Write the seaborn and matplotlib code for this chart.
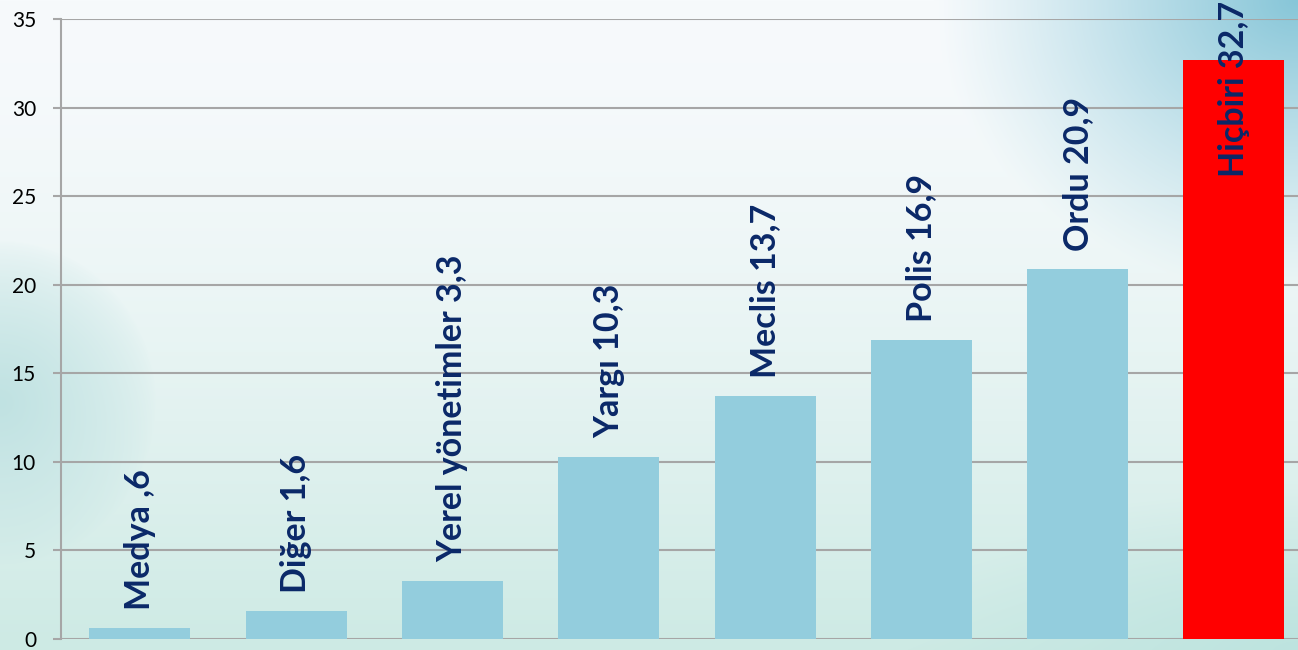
import numpy as np
import matplotlib
matplotlib.use("Agg")
import matplotlib.pyplot as plt
import seaborn as sns

# data
kurumlar = ["Medya", "Diğer", "Yerel yönetimler", "Yargı", "Meclis", "Polis", "Ordu", "Hiçbiri"]
oranlar = [0.6, 1.6, 3.3, 10.3, 13.7, 16.9, 20.9, 32.7]
etiketler = ["Medya ,6", "Diğer 1,6", "Yerel yönetimler 3,3", "Yargı 10,3",
             "Meclis 13,7", "Polis 16,9", "Ordu 20,9", "Hiçbiri 32,7"]
renkler = ["#93CDDD"] * 7 + ["#FF0000"]
y_ticks = [0, 5, 10, 15, 20, 25, 30, 35]

sns.set_style("white")
plt.rcParams["font.family"] = ["Lato", "DejaVu Sans"]

W, H = 1298, 650
fig = plt.figure(figsize=(W / 100, H / 100), dpi=100)

# sky-like background
yy, xx = np.mgrid[0:1:H * 1j, 0:1:W * 1j]
top = np.array([247, 250, 252]) / 255
bottom = np.array([205, 234, 228]) / 255
t = (yy ** 1.6)[..., None]
img = top * (1 - t) + bottom * t
blue = np.array([135, 198, 216]) / 255
d = np.sqrt(((xx - 1.0) / 0.28) ** 2 + ((yy - 0.0) / 0.45) ** 2)
w = np.clip(1 - d, 0, 1)[..., None] ** 1.1
img = img * (1 - w) + blue * w
teal = np.array([192, 226, 226]) / 255
d2 = np.sqrt(((xx - 0.0) / 0.12) ** 2 + ((yy - 0.62) / 0.25) ** 2)
w2 = np.clip(1 - d2, 0, 1)[..., None] ** 0.7
img = img * (1 - w2) + teal * w2
mint = np.array([185, 226, 222]) / 255
d3 = np.sqrt(((xx - 1.0) / 0.3) ** 2 + ((yy - 1.0) / 0.25) ** 2)
w3 = np.clip(1 - d3, 0, 1)[..., None] * 0.8
img = img * (1 - w3) + mint * w3
bg = fig.add_axes([0, 0, 1, 1], zorder=0)
bg.imshow(img, aspect="auto", extent=[0, 1, 0, 1])
bg.axis("off")

ax = fig.add_axes([61 / W, 11 / H, (W - 61) / W, 620 / H], zorder=1)
ax.patch.set_alpha(0)

sns.barplot(x=kurumlar, y=oranlar, hue=kurumlar, palette=renkler,
            legend=False, width=0.646, saturation=1, linewidth=0,
            edgecolor="none", ax=ax, zorder=3)

ax.set_ylim(0, 35)
ax.set_xlim(-0.505, 7.41)
ax.set_yticks(y_ticks)
ax.set_yticklabels([str(v) for v in y_ticks], fontsize=15, color="#000000")
ax.tick_params(axis="y", length=6, width=1.5, color="#A6A6A6", pad=12, left=True)
ax.set_xticks([])
ax.set_xlabel("")
ax.set_ylabel("")
ax.yaxis.grid(True, color="#A6A6A6", linewidth=1.5, zorder=1)
ax.set_axisbelow(True)
for s in ["top", "right", "bottom"]:
    ax.spines[s].set_visible(False)
ax.spines["left"].set_color("#A6A6A6")
ax.spines["left"].set_linewidth(1.5)

# labels above bars (the tallest one hangs from the top)
for i, (v, lab) in enumerate(zip(oranlar, etiketler)):
    if v == max(oranlar):
        ax.annotate(lab, xy=(i, 1), xycoords=("data", "axes fraction"),
                    xytext=(0, 13), textcoords="offset points",
                    rotation=90, ha="center", va="top", fontsize=24.5,
                    fontweight="bold", color="#0A2868", zorder=5,
                    annotation_clip=False)
    else:
        ax.annotate(lab, xy=(i, v), xytext=(0, 13), textcoords="offset points",
                    rotation=90, ha="center", va="bottom", fontsize=24.5,
                    fontweight="bold", color="#0A2868", zorder=5)

fig.savefig("out.png", dpi=100)
